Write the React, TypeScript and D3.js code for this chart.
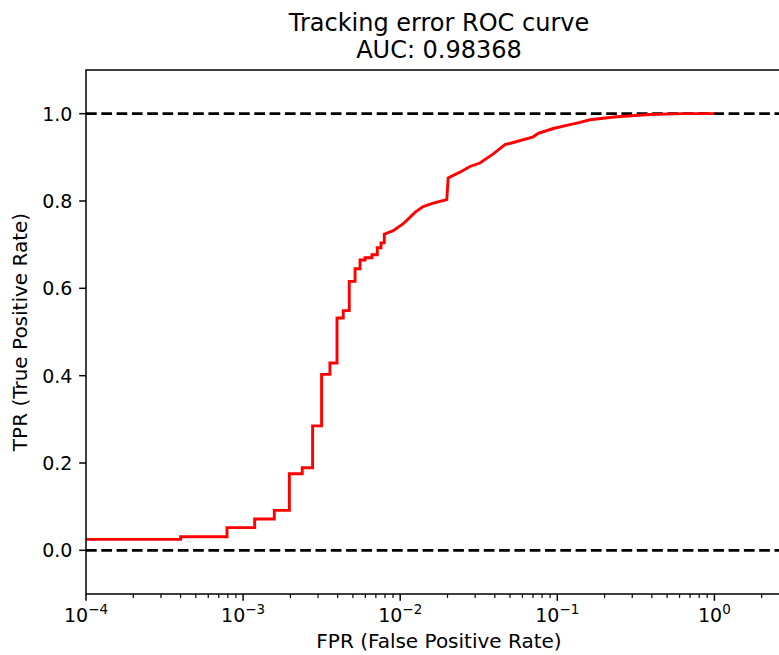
import React from "react";
import * as d3 from "d3";

// ROC curve vertices (FPR, TPR)
const fprPoints = [
  0.0001, 0.0004, 0.0004, 0.00079, 0.00079, 0.001185, 0.001185, 0.00158, 0.00158,
  0.00197, 0.00197, 0.00238, 0.00238, 0.00277, 0.00277, 0.00316, 0.00316, 0.00357,
  0.00357, 0.00396, 0.00396, 0.00434, 0.00434, 0.00474, 0.00474, 0.00516, 0.00516,
  0.00555, 0.00555, 0.00597, 0.00597, 0.00661, 0.00661, 0.00715, 0.00715, 0.00755,
  0.00755, 0.00792, 0.00792, 0.00903, 0.01046, 0.01242, 0.0140, 0.01624, 0.0198,
  0.0202, 0.0240, 0.0278, 0.0322, 0.0391, 0.0465, 0.0525, 0.0703, 0.0757, 0.0943,
  0.1148, 0.1395, 0.1614, 0.2388, 0.389, 0.631, 1.0,
];
const tprPoints = [
  0.0252, 0.0252, 0.031, 0.031, 0.052, 0.052, 0.0716, 0.0716, 0.0915,
  0.0915, 0.1755, 0.1755, 0.189, 0.189, 0.285, 0.285, 0.403, 0.403,
  0.429, 0.429, 0.532, 0.532, 0.549, 0.549, 0.616, 0.616, 0.645,
  0.645, 0.665, 0.665, 0.67, 0.67, 0.677, 0.677, 0.693, 0.693,
  0.704, 0.704, 0.724, 0.732, 0.748, 0.774, 0.787, 0.795, 0.803,
  0.853, 0.866, 0.879, 0.887, 0.908, 0.929, 0.934, 0.947, 0.955, 0.966,
  0.973, 0.980, 0.986, 0.993, 0.998, 1.0, 1.0,
];

const refLines = [0, 1];
const yTicks = [0, 0.2, 0.4, 0.6, 0.8, 1.0];
const xMajorExponents = [-4, -3, -2, -1, 0];

const titleLine1 = "Tracking error ROC curve";
const titleLine2 = "AUC: 0.98368";
const xLabel = "FPR (False Positive Rate)";
const yLabel = "TPR (True Positive Rate)";

const W = 779;
const H = 655;
const left = 86;
const right = 792;
const top = 70;
const bottom = 594;
const FONT = "DejaVu Sans, sans-serif";

export default function App() {
  const x = d3.scaleLog().domain([1e-4, Math.pow(10, 4.494 - 4)]).range([left, right]);
  const y = d3.scaleLinear().domain([-0.1, 1.1]).range([bottom, top]);

  const data = fprPoints.map((f, i) => [f, tprPoints[i]] as [number, number]);
  const line = d3
    .line<[number, number]>()
    .x((d) => x(d[0]))
    .y((d) => y(d[1]));

  const minorTicks: number[] = [];
  for (let e = -4; e <= 0; e++) {
    for (let m = 2; m <= 9; m++) {
      const v = m * Math.pow(10, e);
      if (v <= x.domain()[1]) minorTicks.push(v);
    }
  }

  const cx = (left + right) / 2;

  return (
    <svg
      width={W}
      height={H}
      style={{ position: "absolute", left: 0, top: 0, background: "#fff" }}
      fontFamily={FONT}
    >
      <defs>
        <clipPath id="plot">
          <rect x={left} y={top} width={right - left} height={bottom - top} />
        </clipPath>
      </defs>
      <rect x={0} y={0} width={W} height={H} fill="#fff" />

      {/* reference dashed lines */}
      <g clipPath="url(#plot)">
        {refLines.map((v) => (
          <line
            key={v}
            x1={left}
            x2={right}
            y1={y(v)}
            y2={y(v)}
            stroke="#000"
            strokeWidth={2.9}
            strokeDasharray="10.7 4.6"
          />
        ))}
        <path
          d={line(data) || ""}
          fill="none"
          stroke="#ff0000"
          strokeWidth={2.9}
          strokeLinejoin="miter"
        />
      </g>

      {/* spines */}
      <rect
        x={left}
        y={top}
        width={right - left}
        height={bottom - top}
        fill="none"
        stroke="#000"
        strokeWidth={1.5}
      />

      {/* y ticks */}
      {yTicks.map((t) => (
        <g key={t}>
          <line x1={left - 6.8} x2={left} y1={y(t)} y2={y(t)} stroke="#000" strokeWidth={1.5} />
          <text
            x={left - 13.6}
            y={y(t)}
            dy="0.36em"
            textAnchor="end"
            fontSize={19}
            fill="#000"
          >
            {t.toFixed(1)}
          </text>
        </g>
      ))}

      {/* x minor ticks */}
      {minorTicks.map((t) => (
        <line
          key={"m" + t}
          x1={x(t)}
          x2={x(t)}
          y1={bottom}
          y2={bottom + 3.9}
          stroke="#000"
          strokeWidth={1.2}
        />
      ))}

      {/* x major ticks */}
      {xMajorExponents.map((e) => {
        const v = Math.pow(10, e);
        const sup = e < 0 ? "\u2212" + Math.abs(e) : String(e);
        return (
          <g key={e}>
            <line x1={x(v)} x2={x(v)} y1={bottom} y2={bottom + 6.8} stroke="#000" strokeWidth={1.5} />
            <text x={x(v)} y={622} textAnchor="middle" fontSize={19} fill="#000">
              <tspan>10</tspan>
              <tspan fontSize={13.5} dy={-8}>
                {sup}
              </tspan>
            </text>
          </g>
        );
      })}

      {/* labels */}
      <text x={cx} y={648} textAnchor="middle" fontSize={20} fill="#000">
        {xLabel}
      </text>
      <text
        transform={`translate(27, ${(top + bottom) / 2}) rotate(-90)`}
        textAnchor="middle"
        fontSize={20}
        fill="#000"
      >
        {yLabel}
      </text>

      {/* title */}
      <text x={cx} y={31} textAnchor="middle" fontSize={24} fill="#000">
        {titleLine1}
      </text>
      <text x={cx} y={57.5} textAnchor="middle" fontSize={24} fill="#000">
        {titleLine2}
      </text>
    </svg>
  );
}
